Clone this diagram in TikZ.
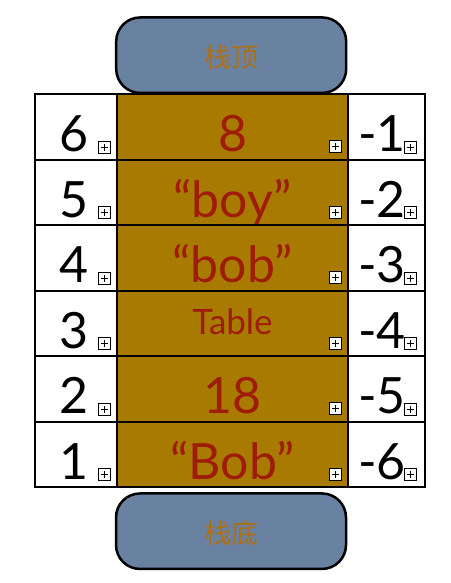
\documentclass[tikz,border=0pt]{standalone}
\usepackage{fontspec}
\setmainfont{Lato}
\newfontfamily\cjk{Noto Sans CJK SC}
\definecolor{cellgold}{RGB}{168,123,0}
\definecolor{valred}{RGB}{158,28,8}
\definecolor{capblue}{RGB}{106,130,162}
\definecolor{capText}{RGB}{172,112,22}
\tikzset{
  cell/.style={draw=black, line width=2pt, inner sep=0pt, outer sep=0pt, minimum height=65.5pt},
  leftcell/.style={cell, fill=white, minimum width=82.3pt},
  midcell/.style={cell, fill=cellgold, minimum width=230.4pt},
  rightcell/.style={cell, fill=white, minimum width=77.6pt},
  numtext/.style={font=\fontsize{50}{50}\selectfont, text=black, inner sep=0pt},
  midA/.style={font=\fontsize{50}{50}\selectfont, text=valred, inner sep=0pt, anchor=base},
  midB/.style={font=\fontsize{35}{35}\selectfont, text=valred, inner sep=0pt, anchor=base, yshift=14pt},
  capbox/.style={draw=black, line width=2.5pt, fill=capblue, rounded corners=24pt,
    minimum width=230pt, minimum height=75.5pt, inner sep=0pt},
  captext/.style={font=\cjk\fontsize{27}{27}\selectfont, text=capText, inner sep=0pt},
  plusbox/.style={draw=black, fill=white, line width=0.9pt, minimum size=12pt, inner sep=0pt,
    path picture={\draw[line width=1pt] ([xshift=-3.5pt]path picture bounding box.center) -- ([xshift=3.5pt]path picture bounding box.center)
      ([yshift=-3.5pt]path picture bounding box.center) -- ([yshift=3.5pt]path picture bounding box.center);}}
}
\begin{document}
\begin{tikzpicture}[x=1pt,y=-1pt]
\useasboundingbox (0,0) rectangle (450,583);
\node[capbox] (top) at (231.2,55.2) {};
\node[captext] (toptext) at (231,57.5) {栈顶};
\node[capbox] (bottom) at (231,531.2) {};
\node[captext] (bottomtext) at (231,533.5) {栈底};
\foreach \i/\l/\m/\r/\s in {1/6/8/-1/midA, 2/5/“boy”/-2/midA, 3/4/“bob”/-3/midA, 4/3/Table/-4/midB, 5/2/18/-5/midA, 6/1/“Bob”/-6/midA}{
  \pgfmathsetmacro{\t}{94+65.5*(\i-1)}
  \node[leftcell] (L\i) at (76.15,\t+32.75) {};
  \node[midcell] (M\i) at (232.5,\t+32.75) {};
  \node[rightcell] (R\i) at (386.5,\t+32.75) {};
  \node[numtext, anchor=base east] (lt\i) at (89,\t+57.5) {\l};
  \node[\s] (mt\i) at (232.5,\t+57.5) {\m};
  \node[numtext, anchor=base] (rt\i) at (382,\t+57.5) {\r};
  \node[plusbox] (pl\i) at (104.5,\t+53) {};
  \node[plusbox] (pm\i) at (335,\t+52.5) {};
  \node[plusbox] (pr\i) at (410,\t+53) {};
}
\end{tikzpicture}
\end{document}
